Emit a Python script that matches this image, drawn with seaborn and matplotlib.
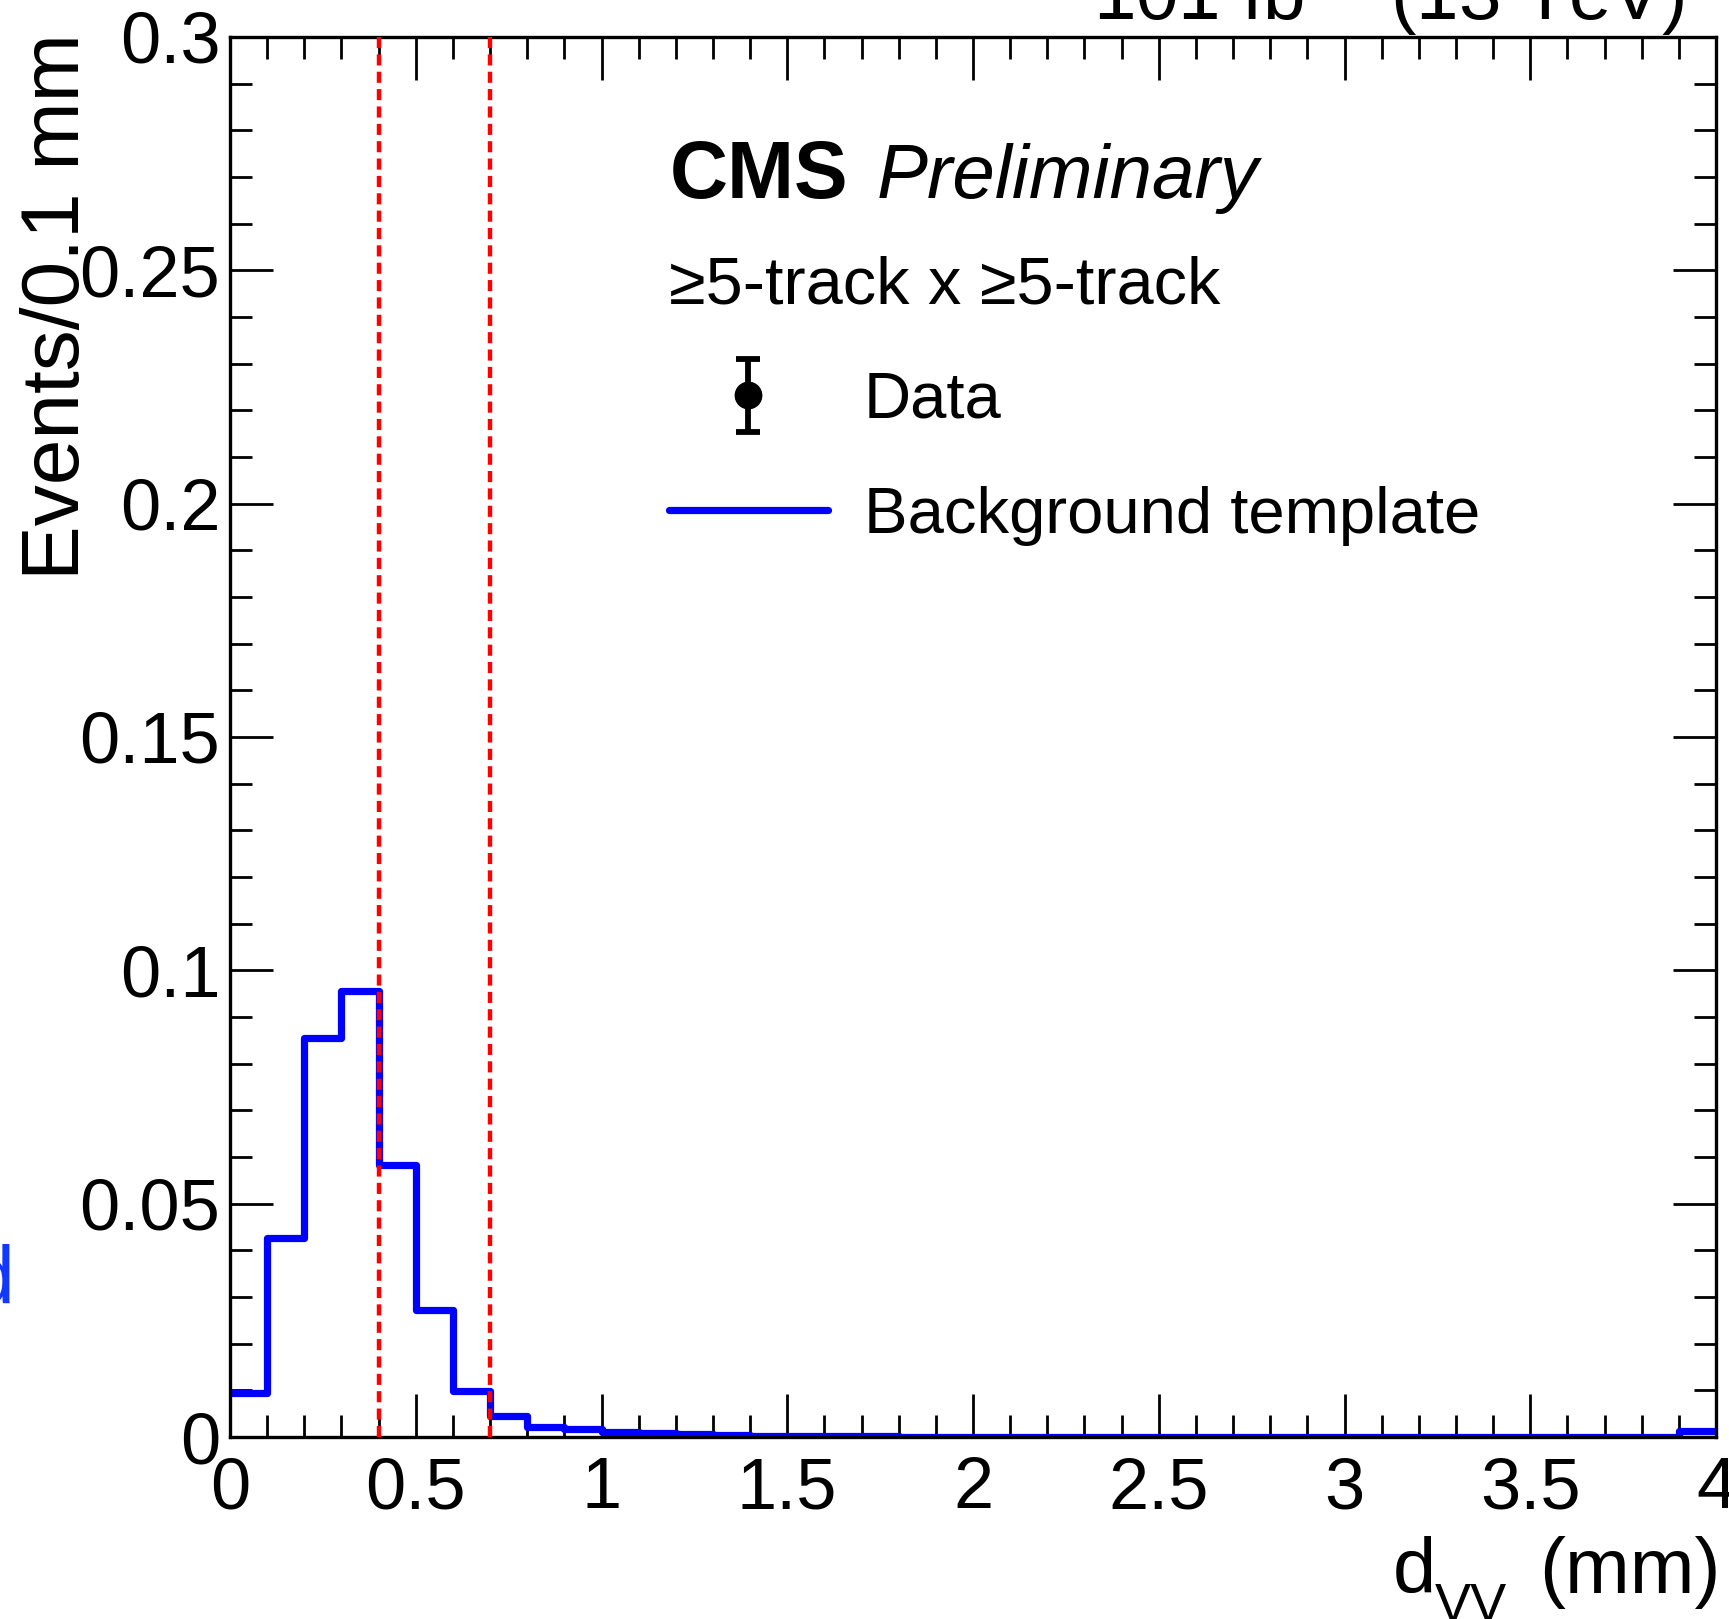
import numpy as np
import pandas as pd
import seaborn as sns
import matplotlib.pyplot as plt
from matplotlib.ticker import MultipleLocator, FuncFormatter
from matplotlib.container import ErrorbarContainer
from matplotlib.legend_handler import HandlerErrorbar

# 🔹 Background template (Events / 0.1 mm), one value per 0.1 mm bin from 0 to 4 mm
bin_width = 0.1
bg_template = [
    0.0094, 0.0426, 0.0854, 0.0956, 0.0582, 0.0272, 0.0099, 0.0045, 0.0021, 0.0017,
    0.0011, 0.0008, 0.0006, 0.0004, 0.0003, 0.0003, 0.0002, 0.0002, 0.0001, 0.0001,
    0.0001, 0.0001, 0.0001, 0.0000, 0.0000, 0.0000, 0.0000, 0.0000, 0.0000, 0.0000,
    0.0000, 0.0000, 0.0000, 0.0000, 0.0000, 0.0000, 0.0000, 0.0000, 0.0000, 0.0012,
]
# signal-region boundaries (mm)
cut_lines = [0.4, 0.7]

legend_labels = ["Data", "Background template"]
selection_label = "\u22655-track x \u22655-track"
lumi_label = r"101 fb$^{-1}$ (13 TeV)"
y_label = "Events/0.1 mm"

# 🔹 Style: ROOT-like look
sns.set_style("ticks")
plt.rcParams["font.family"] = ["Liberation Sans", "DejaVu Sans"]
plt.rcParams["mathtext.fontset"] = "custom"
plt.rcParams["mathtext.rm"] = "Liberation Sans"
plt.rcParams["mathtext.it"] = "Liberation Sans:italic"
plt.rcParams["mathtext.bf"] = "Liberation Sans:bold"
plt.rcParams["lines.scale_dashes"] = False
for key in ["text.color", "axes.labelcolor", "xtick.color", "ytick.color", "axes.edgecolor"]:
    plt.rcParams[key] = "black"

W, H = 1729, 1619
fig = plt.figure(figsize=(W / 100, H / 100), dpi=100)
ax = fig.add_axes([230 / W, 1 - 1437 / H, (1716 - 230) / W, (1437 - 37) / H])

edges = [round(i * bin_width, 2) for i in range(len(bg_template) + 1)]
df = pd.DataFrame({"dvv": [e + bin_width / 2 for e in edges[:-1]], "events": bg_template})

sns.histplot(data=df, x="dvv", weights="events", bins=edges, element="step",
             fill=False, color="#0000ff", linewidth=5.2, ax=ax)
hist_line = ax.lines[-1]

for xc in cut_lines:
    ax.axvline(xc, color="#ff0000", linewidth=3.2, linestyle=(0, (8, 4.5)), zorder=5)

ax.set_xlim(0, 4)
ax.set_ylim(0, 0.3)
ax.set_xlabel("")
ax.set_ylabel("")

fmt = FuncFormatter(lambda v, p: f"{v:g}")
ax.xaxis.set_major_locator(MultipleLocator(0.5))
ax.xaxis.set_minor_locator(MultipleLocator(0.1))
ax.yaxis.set_major_locator(MultipleLocator(0.05))
ax.yaxis.set_minor_locator(MultipleLocator(0.01))
ax.xaxis.set_major_formatter(fmt)
ax.yaxis.set_major_formatter(fmt)
ax.tick_params(which="both", direction="in", top=True, right=True, width=2, color="black")
ax.tick_params(which="major", length=31)
ax.tick_params(which="minor", length=16)
ax.tick_params(axis="x", which="major", labelsize=52, pad=14)
ax.tick_params(axis="y", which="major", labelsize=52, pad=7)
for s in ax.spines.values():
    s.set_linewidth(2.4)

# 🔹 Legend (data is blinded: only the legend handle exists)
data_eb = ax.errorbar([np.nan], [np.nan], yerr=[np.nan], fmt="o", color="black",
                      markersize=19, elinewidth=4.2, capsize=8.5, capthick=4.2)
leg = ax.legend([data_eb, hist_line], legend_labels, loc="upper left",
                bbox_to_anchor=(669 / W, 1 - 371 / H), bbox_transform=fig.transFigure,
                frameon=False, fontsize=47, handlelength=2.43, handletextpad=0.55,
                labelspacing=0.84, borderpad=0, borderaxespad=0, numpoints=1,
                handler_map={ErrorbarContainer: HandlerErrorbar(xerr_size=0.56)})

# 🔹 Texts
fig.text(670 / W, 1 - 198 / H, "CMS", fontsize=58, fontweight="bold", va="baseline")
fig.text(877 / W, 1 - 198 / H, "Preliminary", fontsize=55, style="italic", va="baseline")
fig.text(669 / W, 1 - 303 / H, selection_label, fontsize=48, va="baseline")
fig.text(1685 / W, 1 - 20 / H, lumi_label, fontsize=55, ha="right", va="baseline")

# x-axis title: d_VV (mm), ROOT puts the subscript low
fig.text(1393 / W, 1 - 1593 / H, "d", fontsize=56, va="baseline")
fig.text(1435 / W, 1 - 1621 / H, "VV", fontsize=39, va="baseline")
fig.text(1721 / W, 1 - 1593 / H, "(mm)", fontsize=56, ha="right", va="baseline")

fig.text(58 / W, 1 - 33 / H, y_label, fontsize=59, rotation=90, ha="center", va="top")
# fragment of a neighbouring panel's label at the left edge
fig.text(14 / W, 1 - 1303 / H, "d", fontsize=58, color="#1238ff", ha="right", va="baseline")

plt.savefig("out.png", dpi=100)
plt.close()
